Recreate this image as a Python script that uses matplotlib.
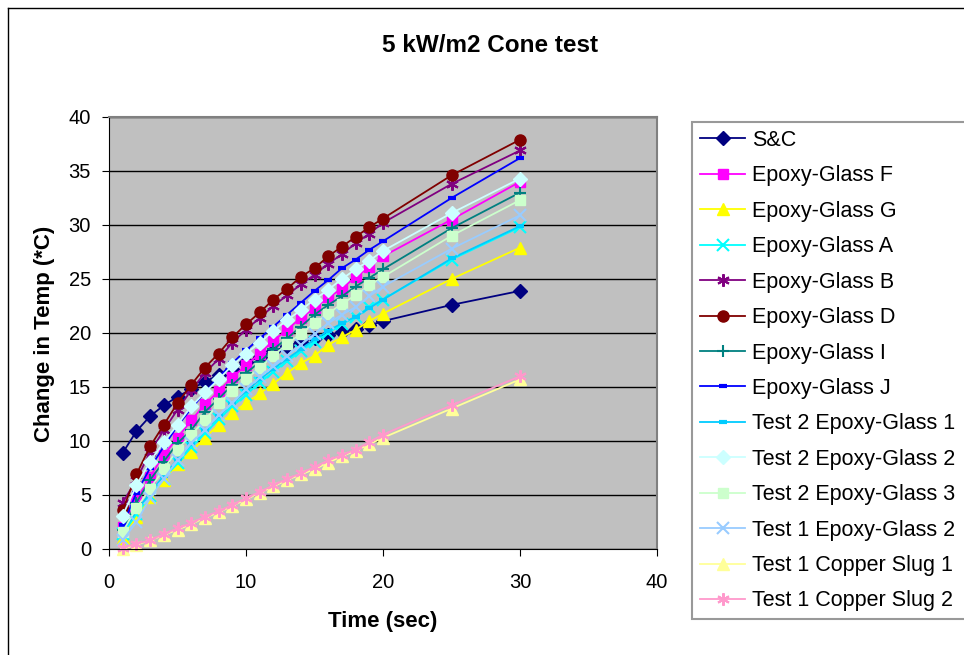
import matplotlib
matplotlib.use("Agg")
import matplotlib.pyplot as plt
from matplotlib.lines import Line2D

plt.rcParams['font.family'] = ['Liberation Sans', 'DejaVu Sans']

# time (sec)
t = list(range(1, 21)) + [25, 30]

sc = [8.9, 10.9, 12.3, 13.3, 14.1, 14.8, 15.5, 16.1, 16.7, 17.3, 17.8, 18.3, 18.8, 19.2, 19.5, 19.8, 20.1, 20.4, 20.7, 21.1, 22.6, 23.9]
eg_f = [2.0, 4.5, 6.7, 8.7, 10.3, 11.9, 13.4, 14.6, 15.9, 17.0, 18.1, 19.3, 20.3, 21.4, 22.3, 23.3, 24.1, 25.2, 26.1, 27.1, 30.5, 34.0]
eg_g = [1.0, 3.0, 4.8, 6.4, 7.9, 9.0, 10.3, 11.5, 12.6, 13.5, 14.4, 15.3, 16.3, 17.2, 17.9, 18.9, 19.6, 20.3, 21.1, 21.8, 25.0, 27.9]
eg_a = [1.4, 3.2, 4.9, 6.5, 8.0, 9.4, 10.7, 12.0, 13.2, 14.3, 15.4, 16.4, 17.4, 18.3, 19.2, 20.0, 20.8, 21.5, 22.4, 23.1, 26.8, 29.8]
eg_b = [4.3, 6.4, 9.0, 11.0, 12.9, 14.7, 16.3, 17.6, 19.1, 20.3, 21.4, 22.5, 23.5, 24.5, 25.4, 26.4, 27.3, 28.3, 29.2, 30.2, 33.8, 36.9]
eg_d = [3.6, 6.9, 9.5, 11.5, 13.5, 15.2, 16.8, 18.1, 19.6, 20.8, 21.9, 23.1, 24.1, 25.2, 26.0, 27.1, 28.0, 28.9, 29.8, 30.6, 34.6, 37.9]
eg_i = [1.8, 4.3, 6.4, 8.1, 9.8, 11.0, 12.7, 13.9, 15.2, 16.3, 17.3, 18.5, 19.5, 20.6, 21.7, 22.6, 23.4, 24.3, 25.1, 25.9, 29.7, 33.0]
eg_j = [2.2, 5.2, 7.5, 9.5, 11.4, 13.0, 14.5, 15.9, 17.2, 18.4, 19.5, 20.6, 21.7, 22.8, 23.9, 24.9, 26.0, 26.8, 27.7, 28.5, 32.5, 36.2]
t2_eg1 = [1.6, 3.5, 5.2, 6.8, 8.3, 9.7, 11.0, 12.3, 13.5, 14.6, 15.7, 16.7, 17.6, 18.5, 19.4, 20.2, 20.9, 21.5, 22.3, 23.1, 26.9, 29.9]
t2_eg2 = [3.1, 5.9, 8.1, 9.9, 11.5, 13.2, 14.5, 15.7, 17.0, 18.1, 19.1, 20.2, 21.2, 22.1, 23.1, 24.0, 25.0, 25.9, 26.7, 27.6, 31.1, 34.3]
t2_eg3 = [1.6, 3.8, 5.6, 7.4, 9.2, 10.6, 11.9, 13.5, 14.6, 15.7, 16.8, 17.9, 19.0, 19.9, 20.9, 21.8, 22.7, 23.5, 24.4, 25.2, 29.0, 32.3]
t1_eg2 = [0.8, 2.5, 4.7, 6.5, 8.2, 9.8, 11.0, 12.4, 13.5, 14.8, 15.9, 16.9, 17.9, 18.9, 19.9, 20.9, 21.7, 22.4, 23.4, 24.3, 27.8, 30.9]
t1_cs1 = [0.0, 0.4, 0.8, 1.3, 1.8, 2.3, 2.9, 3.4, 4.0, 4.6, 5.2, 5.8, 6.4, 6.9, 7.4, 8.0, 8.6, 9.1, 9.7, 10.3, 13.0, 15.7]
t1_cs2 = [0.1, 0.5, 0.8, 1.4, 1.9, 2.4, 3.0, 3.5, 4.1, 4.7, 5.3, 5.9, 6.5, 7.0, 7.6, 8.2, 8.7, 9.2, 9.9, 10.6, 13.3, 16.0]

labels = ['S&C', 'Epoxy-Glass F', 'Epoxy-Glass G', 'Epoxy-Glass A', 'Epoxy-Glass B',
          'Epoxy-Glass D', 'Epoxy-Glass I', 'Epoxy-Glass J', 'Test 2 Epoxy-Glass 1',
          'Test 2 Epoxy-Glass 2', 'Test 2 Epoxy-Glass 3', 'Test 1 Epoxy-Glass 2',
          'Test 1 Copper Slug 1', 'Test 1 Copper Slug 2']
series = [sc, eg_f, eg_g, eg_a, eg_b, eg_d, eg_i, eg_j, t2_eg1, t2_eg2, t2_eg3, t1_eg2, t1_cs1, t1_cs2]

star = (6, 2, 0)
styles = [
    ('#000080', 'D', 7, 1.0),
    ('#FF00FF', 's', 7, 1.0),
    ('#FFFF00', '^', 8, 1.0),
    ('#00FFFF', 'x', 8, 1.5),
    ('#800080', star, 9, 1.5),
    ('#800000', 'o', 8, 1.0),
    ('#008080', '+', 9, 1.5),
    ('#0000FF', '_', 6, 3.0),
    ('#00CCFF', '_', 6, 3.0),
    ('#CCFFFF', 'D', 7, 1.0),
    ('#CCFFCC', 's', 7, 1.0),
    ('#99CCFF', 'x', 8, 1.5),
    ('#FFFF99', '^', 8, 1.0),
    ('#FF99CC', star, 9, 1.5),
]

fig = plt.figure(figsize=(9.64, 6.55), dpi=100)
ax = fig.add_axes([109 / 964, 106 / 655, 548 / 964, 432 / 655])
ax.set_facecolor('#C0C0C0')

for y, lab, (c, m, ms, mew) in zip(series, labels, styles):
    ax.plot(t, y, color=c, lw=1.3, marker=m, ms=ms, mec=c, mfc=c, mew=mew, label=lab, clip_on=False)

ax.set_xlim(0, 40)
ax.set_ylim(0, 40)
ax.set_xticks(range(0, 41, 10))
ax.set_yticks(range(0, 41, 5))
ax.yaxis.grid(True, color='black', lw=1)
ax.set_axisbelow(True)
ax.tick_params(labelsize=14.5, length=5, direction='out', color='black')
ax.tick_params(axis='x', pad=12)
ax.tick_params(axis='y', pad=8)
for s in ['top', 'right']:
    ax.spines[s].set_color('#808080')
    ax.spines[s].set_linewidth(1.5)

fig.text(383 / 964, 1 - 621 / 655, 'Time (sec)', ha='center', va='center',
         fontsize=16, fontweight='bold')
fig.text(45 / 964, 1 - 334 / 655, 'Change in Temp (*C)', ha='center', va='center',
         rotation=90, fontsize=16, fontweight='bold')
fig.text(490 / 964, 1 - 45 / 655, '5 kW/m2 Cone test', ha='center', va='center',
         fontsize=17.5, fontweight='bold')

# legend box runs off the right edge of the chart
leg = fig.legend(loc='upper left', bbox_to_anchor=(692 / 964, 1 - 122 / 655, 0.3, 0),
                 mode='expand', fontsize=15.5, frameon=True, fancybox=False,
                 edgecolor='#808080', labelspacing=0.67, handlelength=2.1,
                 handletextpad=0.33, borderpad=0.37, borderaxespad=0)
leg.get_frame().set_linewidth(1.5)

# outer chart border
fig.add_artist(Line2D([8 / 964, 8 / 964], [0, 1 - 8 / 655], color='black', lw=1))
fig.add_artist(Line2D([8 / 964, 1], [1 - 8 / 655, 1 - 8 / 655], color='black', lw=1))

fig.savefig('out.png', dpi=100)
